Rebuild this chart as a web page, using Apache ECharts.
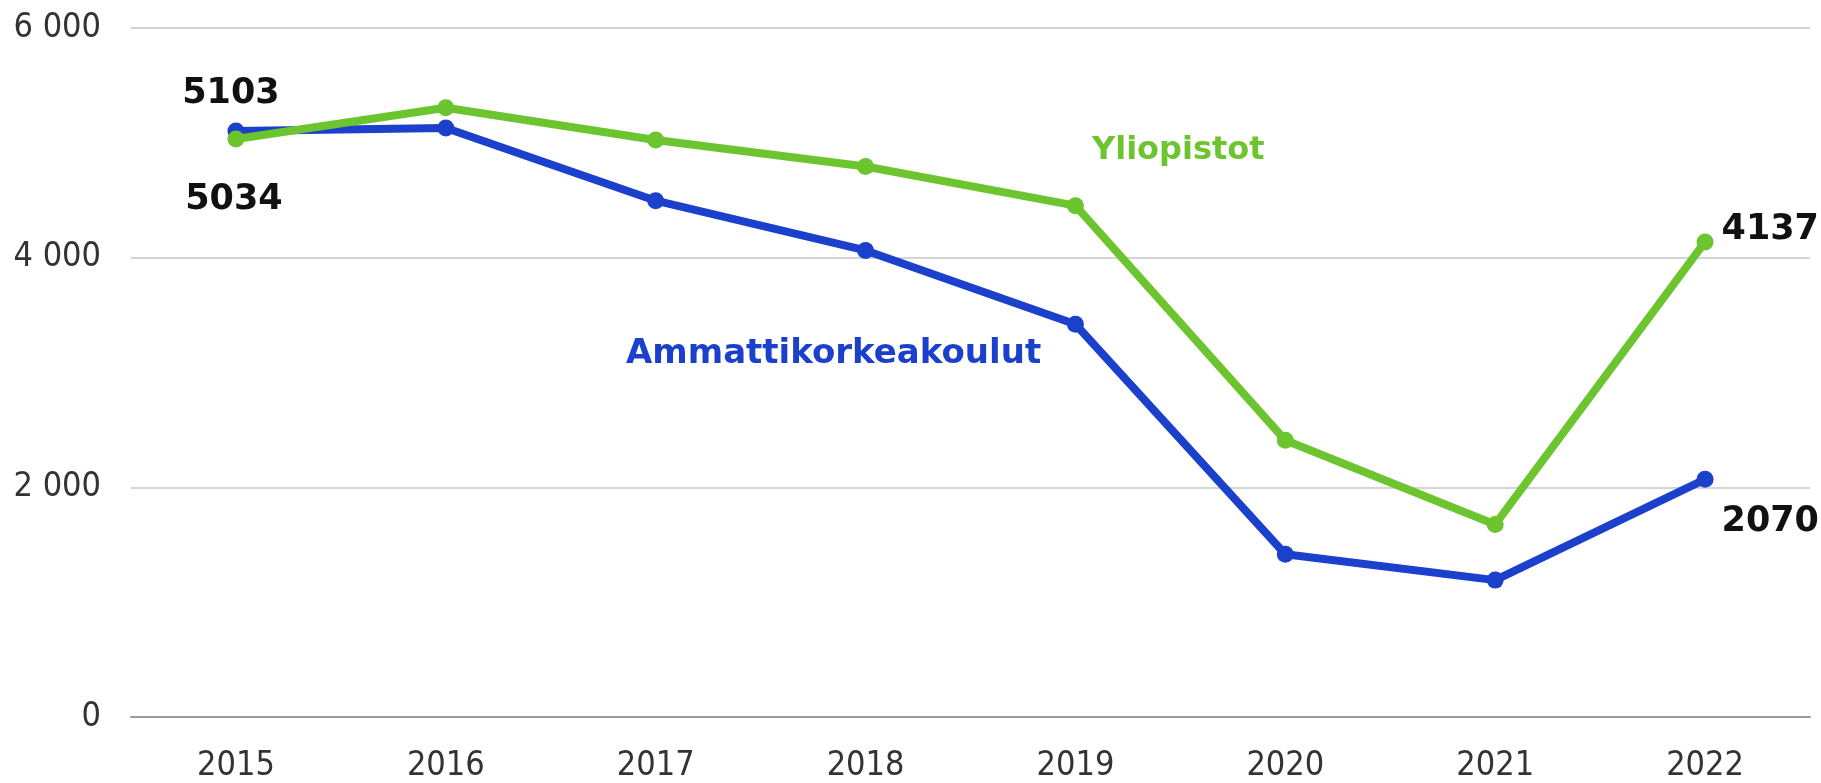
<!DOCTYPE html>
<html>
<head>
<meta charset="utf-8">
<title>Ammattikorkeakoulut ja yliopistot</title>
<script src="https://cdn.jsdelivr.net/npm/echarts@6/dist/echarts.min.js"></script>
<style>
	html, body { margin: 0; padding: 0; background: #fff; }
	#chart { width: 1821px; height: 783px; }
</style>
</head>
<body>
<div id="chart"></div>
<script>
// vuodet
var years = ['2015', '2016', '2017', '2018', '2019', '2020', '2021', '2022'];
// ammattikorkeakoulut
var amk = [5103, 5130, 4496, 4063, 3420, 1417, 1192, 2070];
// yliopistot
var yliopistot = [5034, 5305, 5024, 4794, 4453, 2410, 1677, 4137];

var blue = '#1a40cc';
var green = '#6cc42e';

var myChart = echarts.init(document.getElementById('chart'));

// tuhaterotin välilyönnillä: 6 000
function fmt(v) {
	return String(v).replace(/\B(?=(\d{3})+(?!\d))/g, ' ');
}

var valueLabel = {
	show: true,
	color: '#111',
	fontFamily: 'DejaVu Sans',
	fontWeight: 'bold',
	fontSize: 35
};

// vain ensimmäinen ja viimeinen arvo näytetään
function withLabels(values, first, last) {
	return values.map(function (v, i) {
		if (i == 0) {
			return { value: v, label: Object.assign({}, valueLabel, first) };
		}
		if (i == values.length - 1) {
			return { value: v, label: Object.assign({}, valueLabel, last) };
		}
		return v;
	});
}

var option = {
	animation: false,
	backgroundColor: '#fff',
	grid: {
		left: 131,
		right: 11,
		top: 28,
		bottom: 62
	},
	xAxis: {
		type: 'category',
		data: years,
		boundaryGap: true,
		axisTick: { show: false },
		axisLine: { show: true, lineStyle: { color: '#9a9a9a', width: 2 } },
		axisLabel: {
			color: '#333',
			fontFamily: 'DejaVu Sans Condensed',
			fontSize: 34,
			margin: 32
		}
	},
	yAxis: {
		type: 'value',
		min: 0,
		max: 6000,
		interval: 2000,
		axisLine: { show: false },
		axisTick: { show: false },
		splitLine: { lineStyle: { color: '#d4d4d4', width: 2 } },
		axisLabel: {
			color: '#333',
			fontFamily: 'DejaVu Sans Condensed',
			fontSize: 34,
			margin: 30,
			formatter: fmt
		}
	},
	series: [{
		name: 'Ammattikorkeakoulut',
		type: 'line',
		data: withLabels(amk,
			{ position: 'top', distance: 11, offset: [-5, 0] },
			{ position: 'right', distance: 8, offset: [0, 43] }),
		symbol: 'circle',
		symbolSize: 17,
		lineStyle: { color: blue, width: 8 },
		itemStyle: { color: blue },
		label: { show: false },
		z: 3
	}, {
		name: 'Yliopistot',
		type: 'line',
		data: withLabels(yliopistot,
			{ position: 'bottom', distance: 35, offset: [-2, 0] },
			{ position: 'right', distance: 8, offset: [0, -12] }),
		symbol: 'circle',
		symbolSize: 17,
		lineStyle: { color: green, width: 8 },
		itemStyle: { color: green },
		label: { show: false },
		z: 4
	}],
	// sarjojen nimet kuvan sisällä
	graphic: [{
		type: 'text',
		left: 1092,
		top: 135,
		style: {
			text: 'Yliopistot',
			fill: green,
			font: 'bold 32px "DejaVu Sans"'
		}
	}, {
		type: 'text',
		left: 626,
		top: 337,
		style: {
			text: 'Ammattikorkeakoulut',
			fill: blue,
			font: 'bold 34px "DejaVu Sans"'
		}
	}]
};

myChart.setOption(option);
</script>
</body>
</html>
